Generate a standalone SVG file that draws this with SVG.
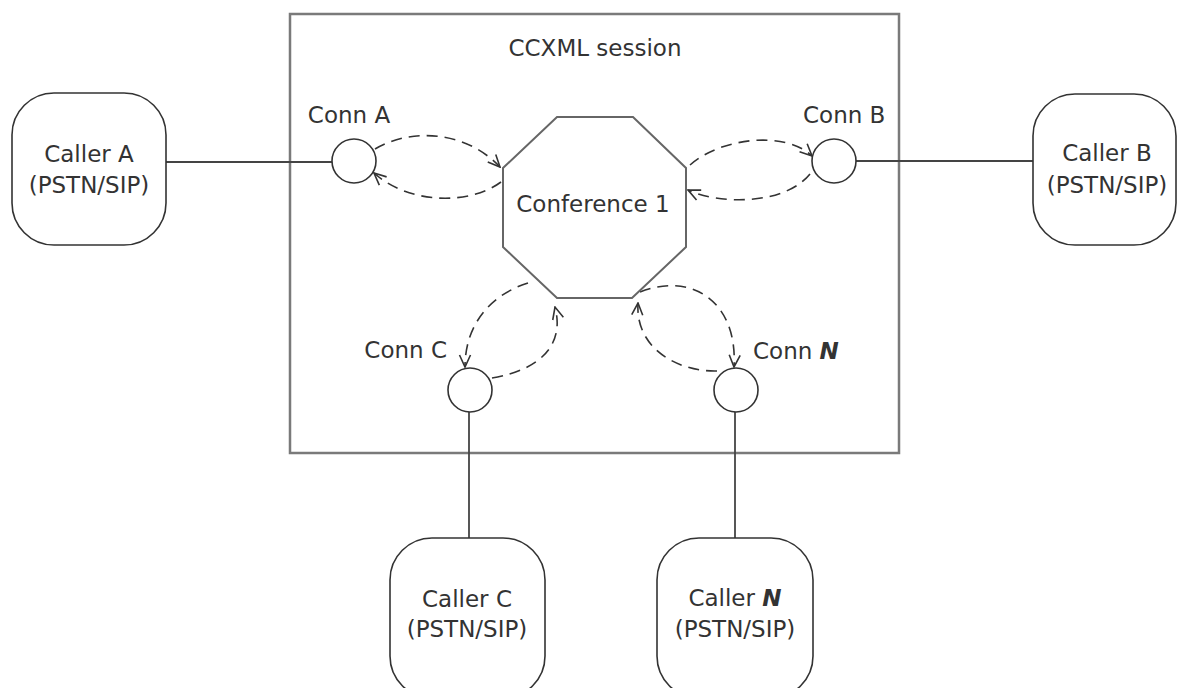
<svg xmlns="http://www.w3.org/2000/svg" width="1177" height="688" viewBox="0 0 1177 688">
<style>
text{font-family:"DejaVu Sans","Verdana",sans-serif;font-size:23px;fill:#333}
.box{fill:none;stroke:#7a7a7a;stroke-width:2.5}
.caller{fill:#fff;stroke:#333;stroke-width:1.6}
.conn{fill:#fff;stroke:#333;stroke-width:1.6}
.oct{fill:#fff;stroke:#666;stroke-width:2}
.line{fill:none;stroke:#444;stroke-width:1.8}
.dash{fill:none;stroke:#333;stroke-width:1.6;stroke-dasharray:11 7}
.b{font-weight:bold;font-style:italic}
</style>
<defs>
<marker id="arr" viewBox="0 0 14 14" refX="13" refY="7" markerWidth="14" markerHeight="14" markerUnits="userSpaceOnUse" orient="auto">
<path d="M1,1.5 L13,7 L1,12.5" fill="none" stroke="#333" stroke-width="1.6"/>
</marker>
</defs>
<g id="session">
<rect class="box" x="290" y="14" width="609" height="439"/>
<text x="595" y="56" text-anchor="middle">CCXML session</text>
</g>
<g id="connectors">
<path class="line" d="M166,162 H332"/>
<path class="line" d="M856,161 H1033"/>
<path class="line" d="M469,412 V538"/>
<path class="line" d="M735,412 V538"/>
<path class="dash" marker-end="url(#arr)" d="M375,149 C410,128 465,130 500,167"/>
<path class="dash" marker-end="url(#arr)" d="M501,182 C470,205 410,205 374,173"/>
<path class="dash" marker-end="url(#arr)" d="M690,165 C720,138 785,130 812,156"/>
<path class="dash" marker-end="url(#arr)" d="M810,174 C785,205 720,205 688,190"/>
<path class="dash" marker-end="url(#arr)" d="M528,283 C490,295 465,325 465,367"/>
<path class="dash" marker-end="url(#arr)" d="M492,378 C540,370 565,345 555,307"/>
<path class="dash" marker-end="url(#arr)" d="M640,292 C690,272 738,300 734,367"/>
<path class="dash" marker-end="url(#arr)" d="M717,371 C680,372 635,350 638,303"/>
</g>
<g id="conference1">
<polygon class="oct" points="557,117 633,117 686,168 686,247 632,298 557,298 503,247 503,168"/>
<text x="593" y="212" text-anchor="middle">Conference 1</text>
</g>
<g id="connA">
<circle class="conn" cx="354" cy="161" r="22"/>
<text x="349" y="123" text-anchor="middle">Conn A</text>
</g>
<g id="connB">
<circle class="conn" cx="834" cy="161" r="22"/>
<text x="803" y="123">Conn B</text>
</g>
<g id="connC">
<circle class="conn" cx="470" cy="390" r="22"/>
<text x="447" y="358" text-anchor="end">Conn C</text>
</g>
<g id="connN">
<circle class="conn" cx="736" cy="390" r="22"/>
<text x="753" y="359">Conn <tspan class="b">N</tspan></text>
</g>
<g id="callerA">
<rect class="caller" x="12" y="93" width="154" height="152" rx="42"/>
<text x="89" y="162" text-anchor="middle">Caller A</text>
<text x="89" y="193" text-anchor="middle">(PSTN/SIP)</text>
</g>
<g id="callerB">
<rect class="caller" x="1033" y="94" width="143" height="151" rx="42"/>
<text x="1107" y="161" text-anchor="middle">Caller B</text>
<text x="1107" y="193" text-anchor="middle">(PSTN/SIP)</text>
</g>
<g id="callerC">
<rect class="caller" x="390" y="538" width="155" height="160" rx="42"/>
<text x="467" y="607" text-anchor="middle">Caller C</text>
<text x="467" y="637" text-anchor="middle">(PSTN/SIP)</text>
</g>
<g id="callerN">
<rect class="caller" x="657" y="538" width="156" height="160" rx="42"/>
<text x="735" y="606" text-anchor="middle">Caller <tspan class="b">N</tspan></text>
<text x="735" y="637" text-anchor="middle">(PSTN/SIP)</text>
</g>
</svg>
